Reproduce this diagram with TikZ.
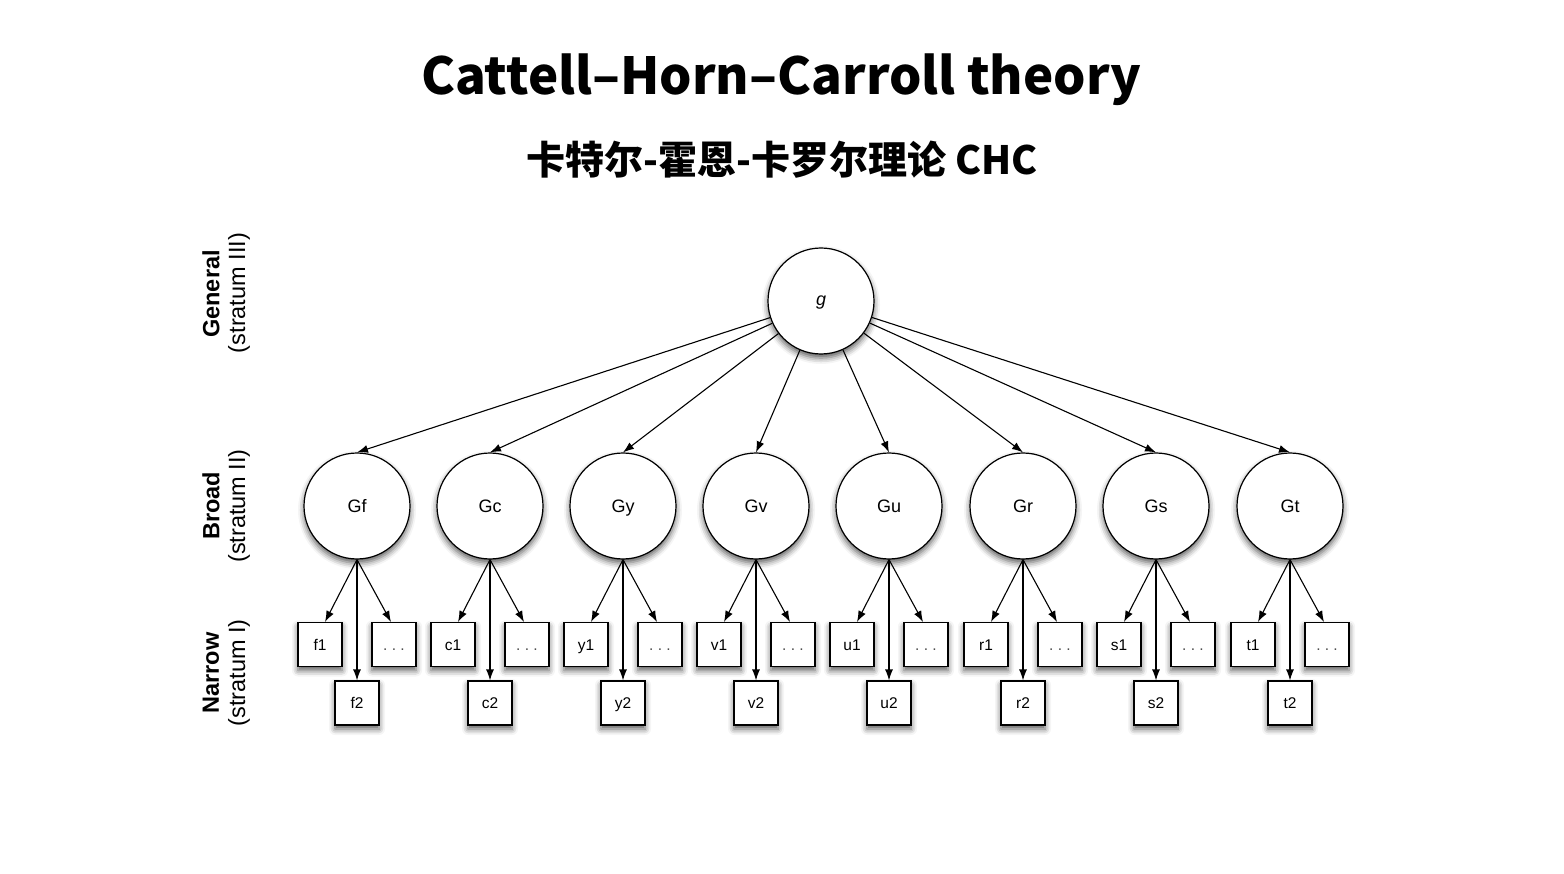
\documentclass[tikz,border=0pt]{standalone}
\usepackage{fontspec}
\setmainfont{Liberation Sans}
\newfontfamily\cjk{Noto Sans CJK SC}
\usetikzlibrary{arrows.meta,shadows.blur}
\tikzset{
  sh/.style={blur shadow={shadow xshift=0pt,shadow yshift=-4pt,shadow blur radius=6pt,shadow opacity=65}},
  bigc/.style={circle,draw,line width=1.2pt,fill=white,minimum size=106pt,inner sep=0pt,sh,font=\fontsize{18}{20}\selectfont,text height=12.9pt,text depth=0pt},
  nbox/.style={rectangle,draw,line width=1.1pt,fill=white,minimum width=44pt,minimum height=44pt,inner sep=0pt,sh,font=\fontsize{15.5}{18}\selectfont,text height=11.1pt,text depth=0pt},
  arr/.style={-{Latex[length=11pt,width=8pt]},line width=1.1pt},
  lab/.style={rotate=90,font=\fontsize{23.5}{26}\selectfont},
  labb/.style={rotate=90,font=\bfseries\fontsize{23.5}{26}\selectfont},
}
\begin{document}
\begin{tikzpicture}[x=1pt,y=-1pt]
\useasboundingbox (0,0) rectangle (1564,874);
\node[font=\cjk\bfseries\fontsize{51}{56}\selectfont] (title) at (781,80) {Cattell–Horn–Carroll theory};
\node[font=\cjk\bfseries\fontsize{39}{42}\selectfont] (sub) at (782,160) {卡特尔-霍恩-卡罗尔理论 CHC};

\node[labb] (l1a) at (211,294) {General};
\node[lab] (l1b) at (239,293) {(stratum III)};
\node[labb] (l2a) at (211,506) {Broad};
\node[lab] (l2b) at (239,506) {(stratum II)};
\node[labb] (l3a) at (211,673) {Narrow};
\node[lab] (l3b) at (239,673) {(stratum I)};

\node[bigc,font=\itshape\fontsize{18}{20}\selectfont,text height=9pt] (g) at (821,301) {g};
\foreach \n/\x/\l in {f/357/Gf,c/490/Gc,y/623/Gy,v/756/Gv,u/889/Gu,r/1023/Gr,s/1156/Gs,t/1290/Gt}{
  \node[bigc] (B\n) at (\x,506) {\l};
  \node[nbox] (\n1) at (\x-37,644.5) {\n1};
  \node[nbox] (\n3) at (\x+37,644.5) {\textcolor{black!70}{.\;.\;.}};
  \node[nbox] (\n2) at (\x,703) {\n2};
  \draw[arr] (g) -- (B\n.north);
  \draw[arr] (B\n.south) -- ([xshift=5pt]\n1.north);
  \draw[arr] (B\n.south) -- ([xshift=-3pt]\n3.north);
  \draw[arr] (B\n.south) -- (\n2.north);
}
\end{tikzpicture}
\end{document}
